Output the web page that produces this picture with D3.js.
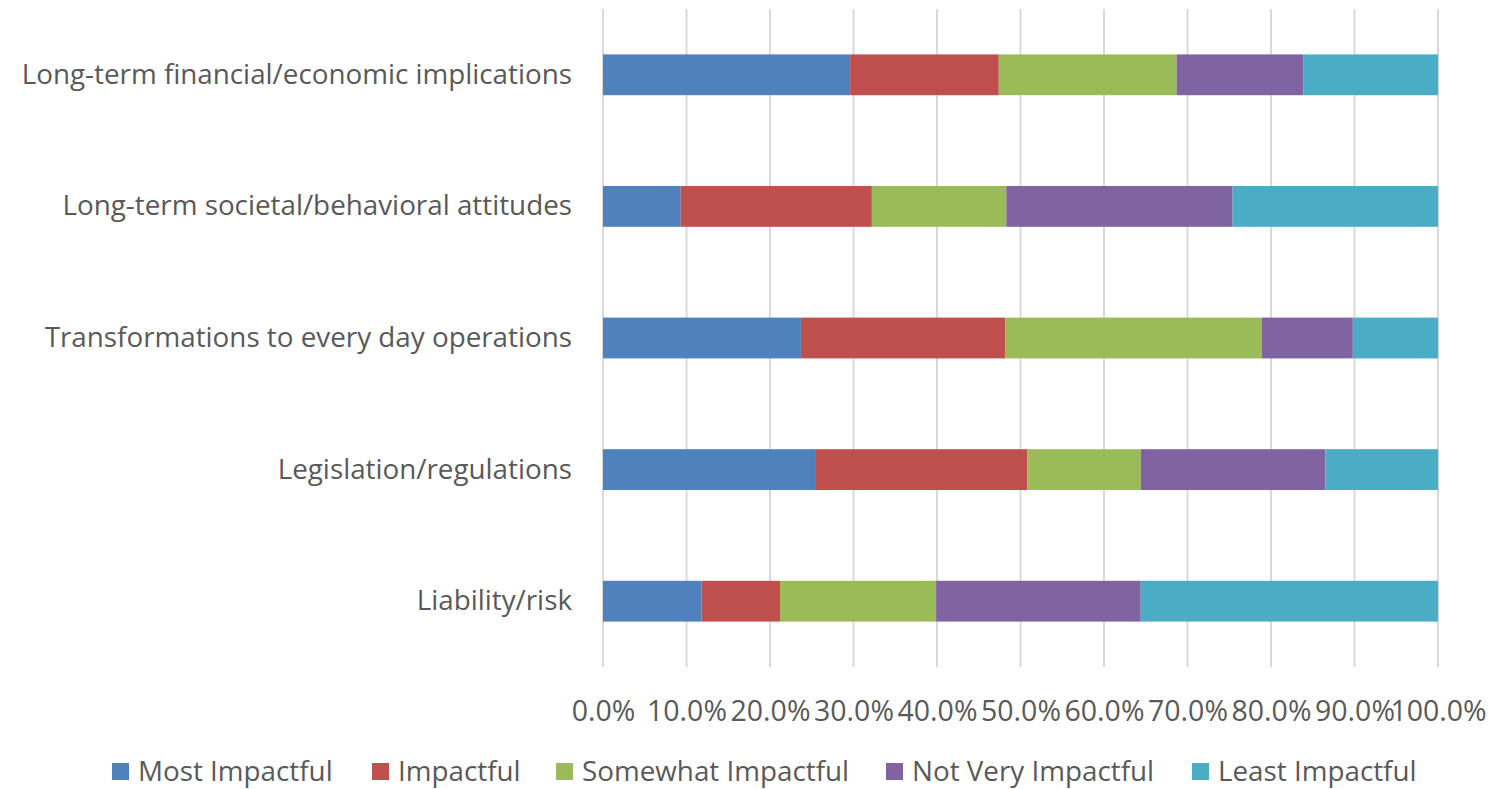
<!DOCTYPE html>
<html>
<head>
<meta charset="utf-8">
<script src="https://cdn.jsdelivr.net/npm/d3@7"></script>
<style>
  html, body { margin: 0; padding: 0; background: #fff; }
  svg { display: block; }
  text { font-family: "Open Sans", "Liberation Sans", sans-serif; fill: #595959; }
</style>
</head>
<body>
<svg id="chart" width="1508" height="789"></svg>
<script>
// Categories listed top to bottom
const categories = [
  "Long-term financial/economic implications",
  "Long-term societal/behavioral attitudes",
  "Transformations to every day operations",
  "Legislation/regulations",
  "Liability/risk"
];

const seriesNames = ["Most Impactful", "Impactful", "Somewhat Impactful", "Not Very Impactful", "Least Impactful"];

// Share of responses (%) per category, in category order
const mostImpactful     = [29.6,  9.3, 23.7, 25.4, 11.8];
const impactful         = [17.8, 22.9, 24.5, 25.4,  9.4];
const somewhatImpactful = [21.3, 16.1, 30.7, 13.6, 18.7];
const notVeryImpactful  = [15.2, 27.1, 10.9, 22.1, 24.5];
const leastImpactful    = [16.1, 24.6, 10.2, 13.5, 35.6];

const tickValues = [0, 10, 20, 30, 40, 50, 60, 70, 80, 90, 100];

const colors = ["#4f81bd", "#c0504d", "#9bbb59", "#8064a2", "#4bacc6"];

const seriesValues = [mostImpactful, impactful, somewhatImpactful, notVeryImpactful, leastImpactful];
const rows = categories.map((c, i) => {
  const r = { category: c };
  seriesNames.forEach((s, j) => { r[s] = seriesValues[j][i]; });
  return r;
});

const svg = d3.select("#chart");
const margin = { left: 603, right: 70, top: 9, bottom: 122 };
const W = 1508, H = 789;

const x = d3.scaleLinear().domain([0, 100]).range([margin.left, W - margin.right]);
const y = d3.scaleBand().domain(categories).range([margin.top, H - margin.bottom]).paddingInner(0.69).paddingOuter(0.345);

// Vertical gridlines
svg.append("g").selectAll("line").data(tickValues).join("line")
  .attr("x1", d => x(d)).attr("x2", d => x(d))
  .attr("y1", margin.top).attr("y2", H - margin.bottom)
  .attr("stroke", "#d9d9d9").attr("stroke-width", 2);

// Stacked bars
const stack = d3.stack().keys(seriesNames);
const layers = stack(rows);
svg.append("g").selectAll("g").data(layers).join("g")
  .attr("fill", (d, i) => colors[i])
  .selectAll("rect").data(d => d).join("rect")
  .attr("x", d => x(d[0]))
  .attr("width", d => x(d[1]) - x(d[0]))
  .attr("y", d => y(d.data.category))
  .attr("height", y.bandwidth());

// X axis tick labels
const xAxis = d3.axisBottom(x).tickValues(tickValues).tickFormat(d => d.toFixed(1) + "%").tickSize(0).tickPadding(0);
const gx = svg.append("g").attr("transform", `translate(0, ${H - margin.bottom})`).call(xAxis);
gx.select(".domain").remove();
gx.selectAll("text").attr("dy", 0).attr("y", 54).style("font-size", "28.5px").attr("fill", "#595959")
  .style("font-family", "'Open Sans', sans-serif");

// Y axis category labels
const yAxis = d3.axisLeft(y).tickSize(0).tickPadding(31);
const gy = svg.append("g").attr("transform", `translate(${margin.left}, 0)`).call(yAxis);
gy.select(".domain").remove();
gy.selectAll("text").style("font-size", "27.8px").attr("fill", "#595959")
  .style("font-family", "'Open Sans', sans-serif");

// Legend
const legendX = [112, 372, 556, 886, 1192];
const legend = svg.append("g").selectAll("g").data(seriesNames).join("g")
  .attr("transform", (d, i) => `translate(${legendX[i]}, 771)`);
legend.append("rect").attr("x", 0).attr("y", -8).attr("width", 17).attr("height", 17)
  .attr("fill", (d, i) => colors[i]);
legend.append("text").attr("x", 26).attr("dy", "0.35em").style("font-size", "27.8px").text(d => d);
</script>
</body>
</html>
